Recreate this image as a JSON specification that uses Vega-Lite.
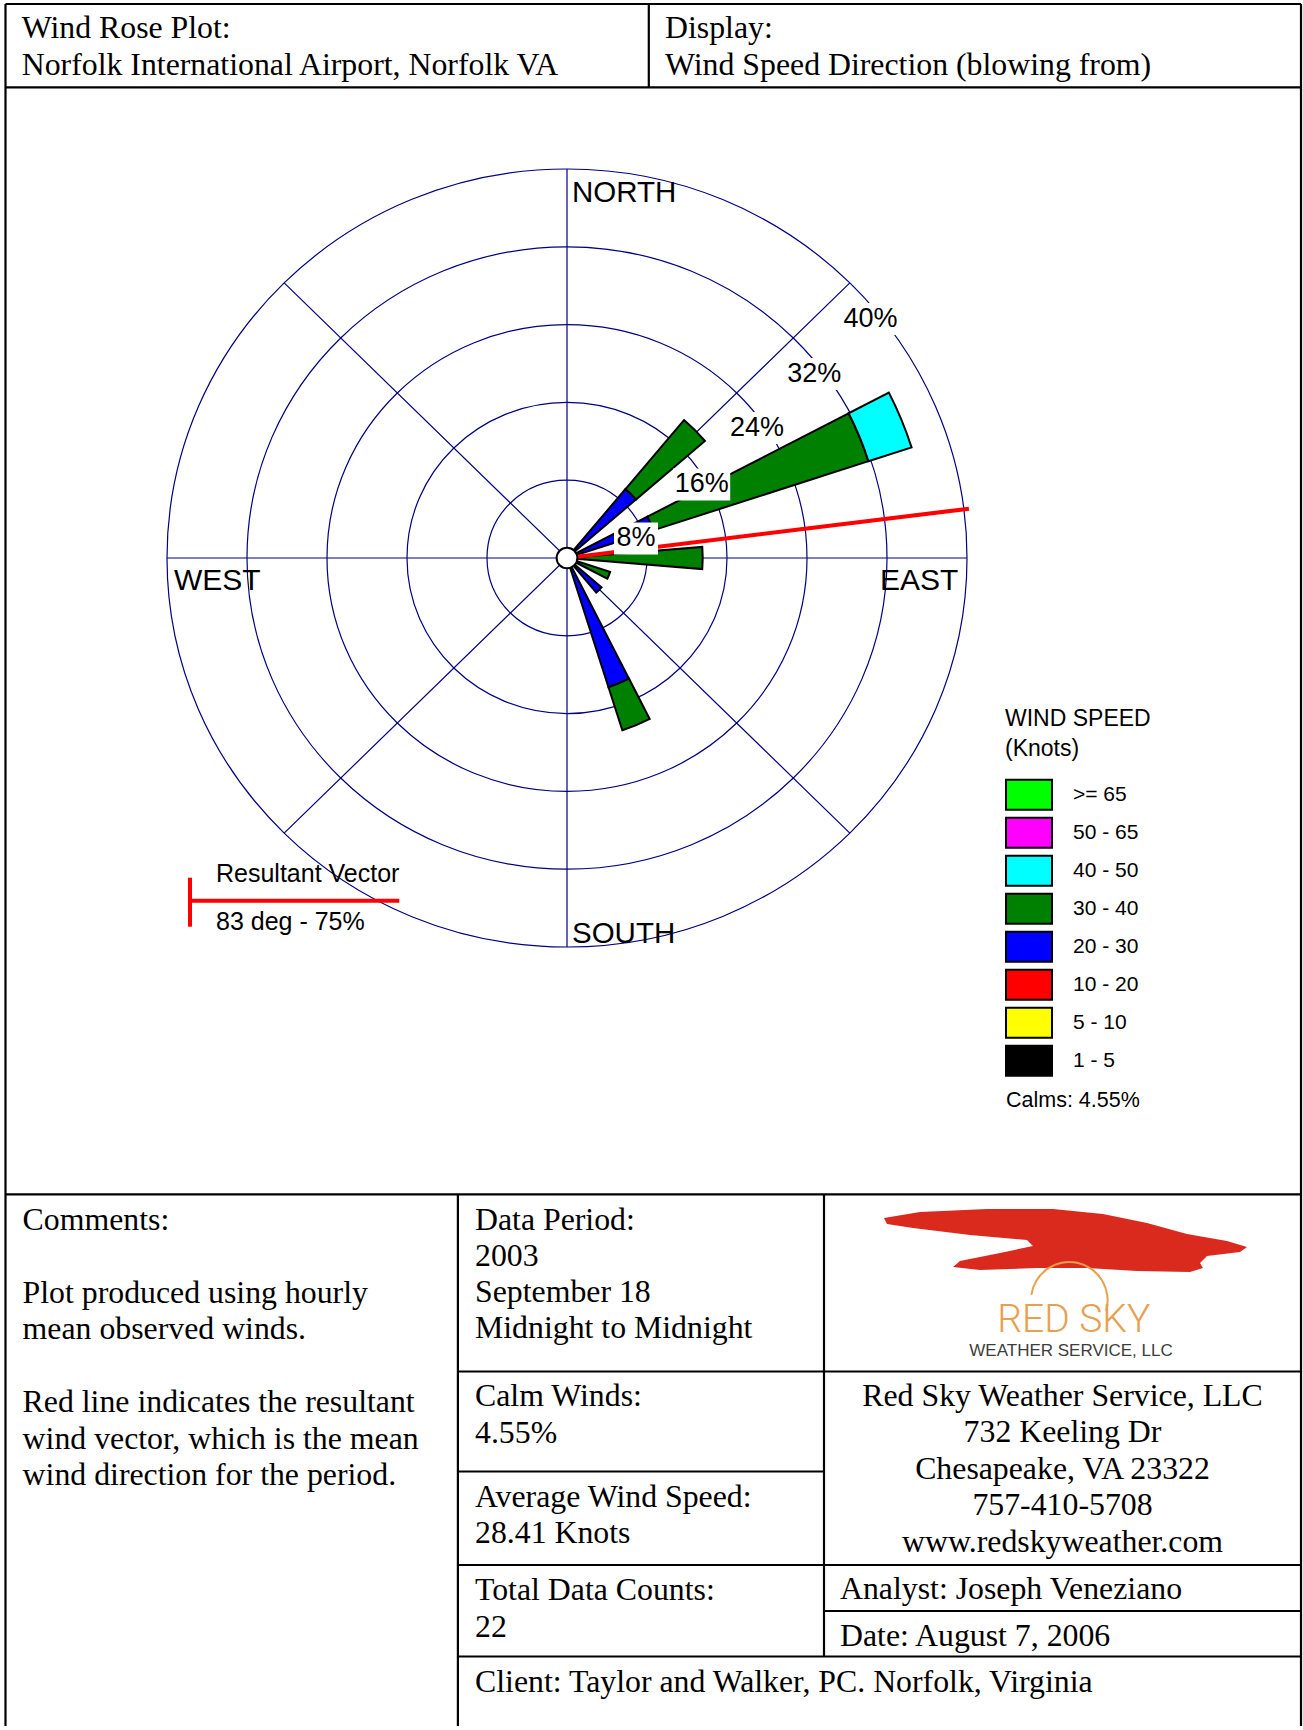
{
  "$schema": "https://vega.github.io/schema/vega-lite/v6.json",
  "width": 1303,
  "height": 1730,
  "padding": 0,
  "autosize": {"type": "none"},
  "background": "white",
  "config": {"view": {"stroke": null}, "axis": {"disable": true}},
  "data": {"values": [{}]},
  "layer": [
    {"mark": {"type": "rule", "color": "black", "strokeWidth": 2.2},
     "encoding": {
       "x": {"datum": 5.5, "type": "quantitative", "scale": {"domain": [0, 1303], "nice": false, "zero": false}, "axis": null},
       "y": {"datum": 4, "type": "quantitative", "scale": {"domain": [0, 1730], "reverse": true, "nice": false, "zero": false}, "axis": null},
       "y2": {"datum": 1726}}},
    {"mark": {"type": "rule", "color": "black", "strokeWidth": 2.2}, "encoding": {"x": {"datum": 1301}, "y": {"datum": 4}, "y2": {"datum": 1726}}},
    {"mark": {"type": "rule", "color": "black", "strokeWidth": 2.2}, "encoding": {"x": {"datum": 648.8}, "y": {"datum": 4}, "y2": {"datum": 87.3}}},
    {"mark": {"type": "rule", "color": "black", "strokeWidth": 2.2}, "encoding": {"x": {"datum": 457.9}, "y": {"datum": 1194.3}, "y2": {"datum": 1726}}},
    {"mark": {"type": "rule", "color": "black", "strokeWidth": 2.2}, "encoding": {"x": {"datum": 824}, "y": {"datum": 1194.3}, "y2": {"datum": 1656.5}}},
    {"mark": {"type": "rule", "color": "black", "strokeWidth": 2.2}, "encoding": {"y": {"datum": 4}, "x": {"datum": 5.5}, "x2": {"datum": 1301}}},
    {"mark": {"type": "rule", "color": "black", "strokeWidth": 2.2}, "encoding": {"y": {"datum": 87.3}, "x": {"datum": 5.5}, "x2": {"datum": 1301}}},
    {"mark": {"type": "rule", "color": "black", "strokeWidth": 2.2}, "encoding": {"y": {"datum": 1194.3}, "x": {"datum": 5.5}, "x2": {"datum": 1301}}},
    {"mark": {"type": "rule", "color": "black", "strokeWidth": 2.2}, "encoding": {"y": {"datum": 1371.5}, "x": {"datum": 457.9}, "x2": {"datum": 1301}}},
    {"mark": {"type": "rule", "color": "black", "strokeWidth": 2.2}, "encoding": {"y": {"datum": 1471.5}, "x": {"datum": 457.9}, "x2": {"datum": 824}}},
    {"mark": {"type": "rule", "color": "black", "strokeWidth": 2.2}, "encoding": {"y": {"datum": 1565}, "x": {"datum": 457.9}, "x2": {"datum": 1301}}},
    {"mark": {"type": "rule", "color": "black", "strokeWidth": 2.2}, "encoding": {"y": {"datum": 1611}, "x": {"datum": 824}, "x2": {"datum": 1301}}},
    {"mark": {"type": "rule", "color": "black", "strokeWidth": 2.2}, "encoding": {"y": {"datum": 1656.5}, "x": {"datum": 457.9}, "x2": {"datum": 1301}}},

    {"data": {"values": [{"ring": 8}, {"ring": 16}, {"ring": 24}, {"ring": 32}, {"ring": 40}]},
     "mark": {"type": "point", "shape": "M-1,0A1,0.9725 0 1,0 1,0A1,0.9725 0 1,0 -1,0Z", "filled": false, "stroke": "#000080", "strokeWidth": 1.2, "opacity": 1},
     "encoding": {
       "x": {"datum": 567}, "y": {"datum": 558},
       "size": {"field": "ring", "type": "quantitative", "legend": null,
                "scale": {"type": "pow", "exponent": 2, "domain": [0, 40], "range": [0, 640000], "zero": true, "nice": false}}}},
    {"mark": {"type": "point", "shape": "M0,-0.9725L0,0.9725M-1,0L1,0M-0.7071,-0.6877L0.7071,0.6877M-0.7071,0.6877L0.7071,-0.6877", "size": 640000, "filled": false, "stroke": "#000080", "strokeWidth": 1.2, "opacity": 1},
     "encoding": {"x": {"datum": 567}, "y": {"datum": 558}}},

    {"mark": {"type": "text", "text": "NORTH", "font": "Liberation Sans", "fontSize": 29.5, "align": "left", "baseline": "middle", "color": "black"},
     "encoding": {"x": {"datum": 572}, "y": {"datum": 193}}},
    {"mark": {"type": "text", "text": "SOUTH", "font": "Liberation Sans", "fontSize": 29.5, "align": "left", "baseline": "middle", "color": "black"},
     "encoding": {"x": {"datum": 572}, "y": {"datum": 934}}},
    {"mark": {"type": "text", "text": "WEST", "font": "Liberation Sans", "fontSize": 30, "align": "left", "baseline": "middle", "color": "black"},
     "encoding": {"x": {"datum": 174}, "y": {"datum": 581}}},
    {"mark": {"type": "text", "text": "EAST", "font": "Liberation Sans", "fontSize": 30, "align": "left", "baseline": "middle", "color": "black"},
     "encoding": {"x": {"datum": 880}, "y": {"datum": 581}}},

    {"data": {"values": [
       {"dir": 45, "speed": "20 - 30", "pct": 9.09},
       {"dir": 45, "speed": "30 - 40", "pct": 9.09},
       {"dir": 67.5, "speed": "20 - 30", "pct": 9.09},
       {"dir": 67.5, "speed": "30 - 40", "pct": 22.73},
       {"dir": 67.5, "speed": "40 - 50", "pct": 4.55},
       {"dir": 90, "speed": "30 - 40", "pct": 13.64},
       {"dir": 112.5, "speed": "30 - 40", "pct": 4.55},
       {"dir": 135, "speed": "20 - 30", "pct": 4.55},
       {"dir": 157.5, "speed": "20 - 30", "pct": 13.64},
       {"dir": 157.5, "speed": "30 - 40", "pct": 4.55}]},
     "transform": [{"stack": "pct", "groupby": ["dir"], "sort": [{"field": "speed", "order": "ascending"}], "as": ["r0", "r1"]}],
     "mark": {"type": "arc", "stroke": "black", "strokeWidth": 2, "opacity": 1, "thetaOffset": -0.082, "theta2Offset": 0.082},
     "encoding": {
       "x": {"datum": 567}, "y": {"datum": 558},
       "theta": {"field": "dir", "type": "quantitative", "stack": null,
                 "scale": {"type": "linear", "domain": [0, 360], "range": [0, 6.283185307179586], "zero": false, "nice": false}},
       "theta2": {"field": "dir"},
       "radius": {"field": "r1", "type": "quantitative", "stack": null,
                  "scale": {"type": "linear", "domain": [0, 40], "range": [0, 398], "zero": true, "nice": false}},
       "radius2": {"field": "r0"},
       "color": {"field": "speed", "type": "nominal",
         "scale": {"domain": [">= 65", "50 - 65", "40 - 50", "30 - 40", "20 - 30", "10 - 20", "5 - 10", "1 - 5"],
                   "range": ["#00FF00", "#FF00FF", "#00FFFF", "#008000", "#0000FF", "#FF0000", "#FFFF00", "#000000"]},
         "legend": {"orient": "none", "legendX": 1005, "legendY": 708, "padding": 0,
           "title": ["WIND SPEED", "(Knots)"], "titleFont": "Liberation Sans", "titleFontSize": 23, "titleFontWeight": "normal",
           "titleColor": "black", "titleLineHeight": 30, "titlePadding": 16, "titleAnchor": "start",
           "labelFont": "Liberation Sans", "labelFontSize": 21, "labelColor": "black", "labelOffset": 20, "labelLimit": 200,
           "symbolType": "M-1,-0.652H1V0.652H-1Z", "symbolSize": 2116, "symbolStrokeColor": "black", "symbolStrokeWidth": 2,
           "symbolOpacity": 1, "clipHeight": 35.5, "rowPadding": 2}}}},

    {"mark": {"type": "arc", "filled": false, "stroke": "#FF0000", "strokeWidth": 4},
     "encoding": {"x": {"datum": 567}, "y": {"datum": 558}, "theta": {"datum": 83}, "theta2": {"datum": 83}, "radius": {"datum": 40.7}, "radius2": {"datum": 0}}},

    {"encoding": {"x": {"datum": 636}, "y": {"datum": 538.4}},
     "layer": [
       {"mark": {"type": "point", "shape": "M-22,-16H22V16H-22Z", "size": 4, "filled": true, "fill": "white", "strokeWidth": 0, "opacity": 1}},
       {"mark": {"type": "text", "text": "8%", "font": "Liberation Sans", "fontSize": 27, "align": "center", "baseline": "middle", "color": "black"}}]},
    {"encoding": {"x": {"datum": 701.7}, "y": {"datum": 484.4}},
     "layer": [
       {"mark": {"type": "point", "shape": "M-28.5,-16H28.5V16H-28.5Z", "size": 4, "filled": true, "fill": "white", "strokeWidth": 0, "opacity": 1}},
       {"mark": {"type": "text", "text": "16%", "font": "Liberation Sans", "fontSize": 27, "align": "center", "baseline": "middle", "color": "black"}}]},
    {"encoding": {"x": {"datum": 756.9}, "y": {"datum": 428}},
     "layer": [
       {"mark": {"type": "point", "shape": "M-28.5,-16H28.5V16H-28.5Z", "size": 4, "filled": true, "fill": "white", "strokeWidth": 0, "opacity": 1}},
       {"mark": {"type": "text", "text": "24%", "font": "Liberation Sans", "fontSize": 27, "align": "center", "baseline": "middle", "color": "black"}}]},
    {"encoding": {"x": {"datum": 814.2}, "y": {"datum": 374}},
     "layer": [
       {"mark": {"type": "point", "shape": "M-28.5,-16H28.5V16H-28.5Z", "size": 4, "filled": true, "fill": "white", "strokeWidth": 0, "opacity": 1}},
       {"mark": {"type": "text", "text": "32%", "font": "Liberation Sans", "fontSize": 27, "align": "center", "baseline": "middle", "color": "black"}}]},
    {"encoding": {"x": {"datum": 870.5}, "y": {"datum": 318.9}},
     "layer": [
       {"mark": {"type": "point", "shape": "M-28.5,-16H28.5V16H-28.5Z", "size": 4, "filled": true, "fill": "white", "strokeWidth": 0, "opacity": 1}},
       {"mark": {"type": "text", "text": "40%", "font": "Liberation Sans", "fontSize": 27, "align": "center", "baseline": "middle", "color": "black"}}]},

    {"mark": {"type": "point", "shape": "circle", "size": 430, "filled": true, "fill": "white", "stroke": "black", "strokeWidth": 2, "opacity": 1},
     "encoding": {"x": {"datum": 567}, "y": {"datum": 558}}},

    {"mark": {"type": "rule", "color": "#FF0000", "strokeWidth": 4}, "encoding": {"x": {"datum": 190}, "y": {"datum": 877.7}, "y2": {"datum": 926.7}}},
    {"mark": {"type": "rule", "color": "#FF0000", "strokeWidth": 4}, "encoding": {"y": {"datum": 900.7}, "x": {"datum": 190}, "x2": {"datum": 399.3}}},
    {"mark": {"type": "text", "text": "Resultant Vector", "font": "Liberation Sans", "fontSize": 25, "align": "left", "baseline": "alphabetic", "color": "black"},
     "encoding": {"x": {"datum": 216}, "y": {"datum": 882.3}}},
    {"mark": {"type": "text", "text": "83 deg - 75%", "font": "Liberation Sans", "fontSize": 25, "align": "left", "baseline": "alphabetic", "color": "black"},
     "encoding": {"x": {"datum": 216}, "y": {"datum": 930}}},
    {"mark": {"type": "text", "text": "Calms: 4.55%", "font": "Liberation Sans", "fontSize": 21.5, "align": "left", "baseline": "alphabetic", "color": "black"},
     "encoding": {"x": {"datum": 1006}, "y": {"datum": 1107}}},

    {"mark": {"type": "text", "text": ["Wind Rose Plot:", "Norfolk International Airport, Norfolk VA"], "font": "Liberation Serif", "fontSize": 31.8, "lineHeight": 37.5, "align": "left", "baseline": "alphabetic", "color": "black"},
     "encoding": {"x": {"datum": 21.7}, "y": {"datum": 37.5}}},
    {"mark": {"type": "text", "text": ["Display:", "Wind Speed Direction (blowing from)"], "font": "Liberation Serif", "fontSize": 31.8, "lineHeight": 37.5, "align": "left", "baseline": "alphabetic", "color": "black"},
     "encoding": {"x": {"datum": 665}, "y": {"datum": 37.5}}},
    {"mark": {"type": "text", "text": "Comments:", "font": "Liberation Serif", "fontSize": 31.8, "align": "left", "baseline": "alphabetic", "color": "black"},
     "encoding": {"x": {"datum": 22.6}, "y": {"datum": 1229.6}}},
    {"mark": {"type": "text", "text": ["Plot produced using hourly", "mean observed winds."], "font": "Liberation Serif", "fontSize": 31.8, "lineHeight": 36.5, "align": "left", "baseline": "alphabetic", "color": "black"},
     "encoding": {"x": {"datum": 22.6}, "y": {"datum": 1302.6}}},
    {"mark": {"type": "text", "text": ["Red line indicates the resultant", "wind vector, which is the mean", "wind direction for the period."], "font": "Liberation Serif", "fontSize": 31.8, "lineHeight": 36.5, "align": "left", "baseline": "alphabetic", "color": "black"},
     "encoding": {"x": {"datum": 22.6}, "y": {"datum": 1412.1}}},
    {"mark": {"type": "text", "text": ["Data Period:", "2003", "September 18", "Midnight to Midnight"], "font": "Liberation Serif", "fontSize": 31.8, "lineHeight": 36.3, "align": "left", "baseline": "alphabetic", "color": "black"},
     "encoding": {"x": {"datum": 475}, "y": {"datum": 1229.6}}},
    {"mark": {"type": "text", "text": ["Calm Winds:", "4.55%"], "font": "Liberation Serif", "fontSize": 31.8, "lineHeight": 37, "align": "left", "baseline": "alphabetic", "color": "black"},
     "encoding": {"x": {"datum": 475}, "y": {"datum": 1405.5}}},
    {"mark": {"type": "text", "text": ["Average Wind Speed:", "28.41 Knots"], "font": "Liberation Serif", "fontSize": 31.8, "lineHeight": 36.5, "align": "left", "baseline": "alphabetic", "color": "black"},
     "encoding": {"x": {"datum": 475}, "y": {"datum": 1506.6}}},
    {"mark": {"type": "text", "text": ["Total Data Counts:", "22"], "font": "Liberation Serif", "fontSize": 31.8, "lineHeight": 37, "align": "left", "baseline": "alphabetic", "color": "black"},
     "encoding": {"x": {"datum": 475}, "y": {"datum": 1599.5}}},
    {"mark": {"type": "text", "text": "Client: Taylor and Walker, PC. Norfolk, Virginia", "font": "Liberation Serif", "fontSize": 31.8, "align": "left", "baseline": "alphabetic", "color": "black"},
     "encoding": {"x": {"datum": 475}, "y": {"datum": 1691.5}}},
    {"mark": {"type": "text", "text": ["Red Sky Weather Service, LLC", "732 Keeling Dr", "Chesapeake, VA 23322", "757-410-5708", "www.redskyweather.com"], "font": "Liberation Serif", "fontSize": 31.8, "lineHeight": 36.6, "align": "center", "baseline": "alphabetic", "color": "black"},
     "encoding": {"x": {"datum": 1062.5}, "y": {"datum": 1405.7}}},
    {"mark": {"type": "text", "text": "Analyst: Joseph Veneziano", "font": "Liberation Serif", "fontSize": 31.8, "align": "left", "baseline": "alphabetic", "color": "black"},
     "encoding": {"x": {"datum": 840}, "y": {"datum": 1598.9}}},
    {"mark": {"type": "text", "text": "Date: August 7, 2006", "font": "Liberation Serif", "fontSize": 31.8, "align": "left", "baseline": "alphabetic", "color": "black"},
     "encoding": {"x": {"datum": 840}, "y": {"datum": 1645.5}}},

    {"mark": {"type": "point", "shape": "M-181,-22L-145,-28L-78,-31L-12,-31L38,-26L82,-17L122,-6L162,1L182,7L175,12L142,16L135,23L138,28L125,32L72,31L22,28L-28,28L-85,30L-112,27L-105,21L-65,13L-32,6L-38,0L-95,-5L-152,-12L-178,-16Z", "size": 4, "filled": true, "fill": "#DA2A1E", "strokeWidth": 0, "opacity": 1},
     "encoding": {"x": {"datum": 1065}, "y": {"datum": 1240}}},
    {"mark": {"type": "arc", "fill": "#E8A04E", "strokeWidth": 0, "opacity": 1},
     "encoding": {"x": {"datum": 1069.3}, "y": {"datum": 1300.3}, "theta": {"datum": -82}, "theta2": {"datum": 106}, "radius": {"datum": 3.95}, "radius2": {"datum": 3.75}}},
    {"mark": {"type": "text", "text": "RED SKY", "font": "Roboto", "fontWeight": 300, "fontSize": 39, "align": "center", "baseline": "alphabetic", "color": "#E8A04E"},
     "encoding": {"x": {"datum": 1073.8}, "y": {"datum": 1332}}},
    {"mark": {"type": "text", "text": "WEATHER SERVICE, LLC", "font": "Liberation Sans", "fontSize": 17, "align": "center", "baseline": "alphabetic", "color": "#3d3d3d"},
     "encoding": {"x": {"datum": 1071}, "y": {"datum": 1356}}}
  ]
}
